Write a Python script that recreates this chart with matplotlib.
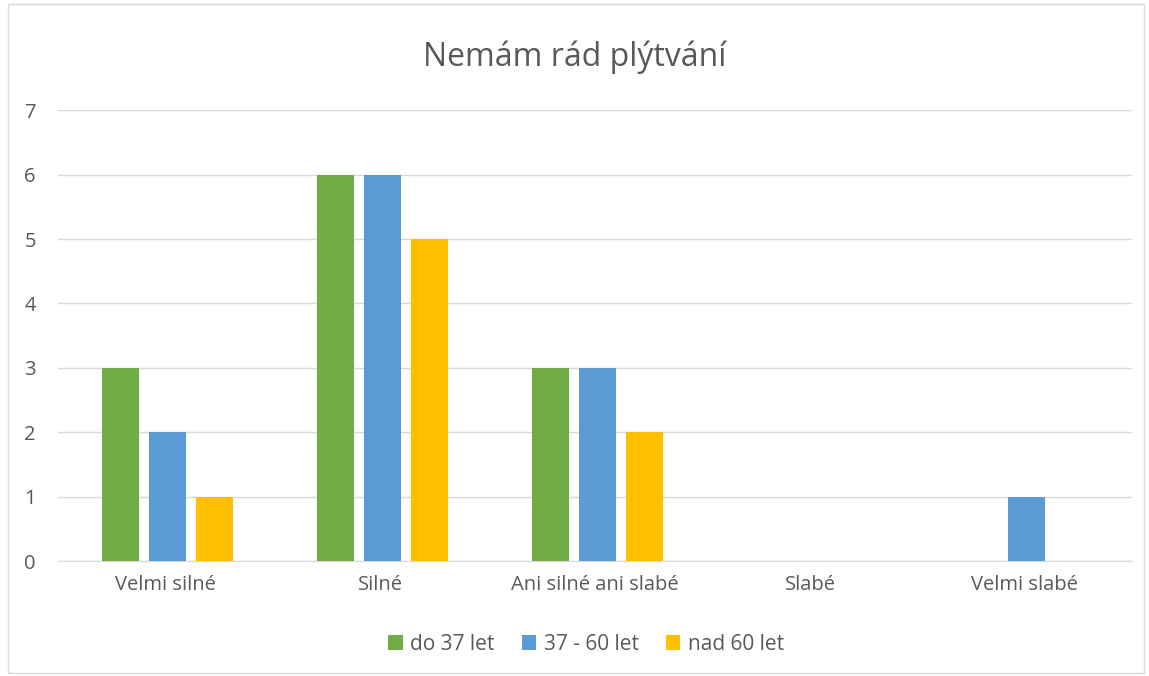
import numpy as np
import matplotlib.pyplot as plt
from matplotlib.patches import Rectangle

plt.rcParams['font.family'] = ['Open Sans', 'DejaVu Sans']

categories = ['Velmi silné', 'Silné', 'Ani silné ani slabé', 'Slabé', 'Velmi slabé']
series_names = ['do 37 let', '37 - 60 let', 'nad 60 let']
do37 = [3, 6, 3, 0, 0]
od37do60 = [2, 6, 3, 0, 1]
nad60 = [1, 5, 2, 0, 0]
colors = ['#70AD47', '#5B9BD5', '#FFC000']

fig = plt.figure(figsize=(11.49, 6.76), dpi=100)
ax = fig.add_axes([0.0505, 0.170, 0.935, 0.667])

x = np.arange(len(categories))
w = 0.172
offs = [-0.21, 0.009, 0.228]
for vals, name, c, o in zip([do37, od37do60, nad60], series_names, colors, offs):
    ax.bar(x + o, vals, width=w, color=c, label=name, zorder=3)

ax.set_xlim(-0.5, len(categories) - 0.5)
ax.set_ylim(0, 7)
ax.set_yticks(range(0, 8))
ax.set_xticks(x)
ax.set_xticklabels(categories)
ax.tick_params(length=0, labelsize=14.5, colors='#595959')
ax.tick_params(axis='y', pad=16)
ax.tick_params(axis='x', pad=10)
ax.grid(axis='y', color='#D9D9D9', linewidth=1, zorder=0)
for s in ['top', 'right', 'left']:
    ax.spines[s].set_visible(False)
ax.spines['bottom'].set_color('#D9D9D9')

fig.text(0.5, 0.915, 'Nemám rád plýtvání', ha='center', va='center',
         fontsize=23, color='#595959')

fig.legend(loc='center', bbox_to_anchor=(0.51, 0.047), ncol=3, frameon=False,
           fontsize=15, labelcolor='#595959', handlelength=0.7, handleheight=0.7,
           columnspacing=1.3, handletextpad=0.35)

fig.patches.append(Rectangle((0.007, 0.004), 0.989, 0.99, transform=fig.transFigure,
                             fill=False, edgecolor='#D9D9D9', linewidth=1))

fig.savefig('out.png', dpi=100)
